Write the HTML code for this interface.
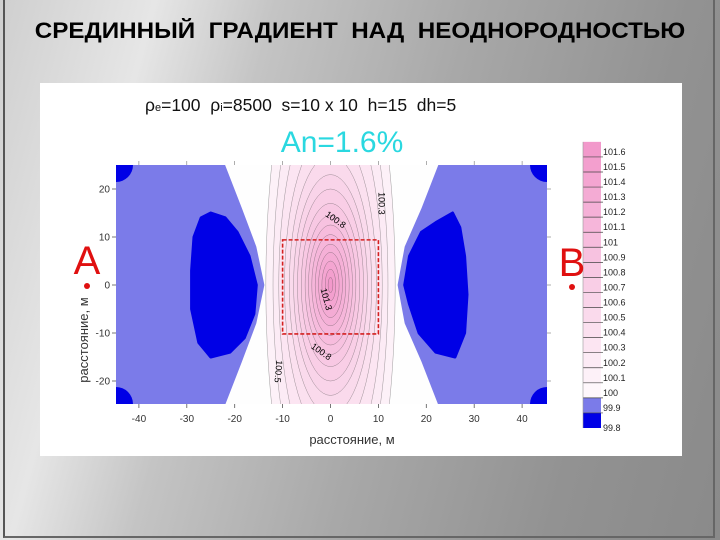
<!DOCTYPE html>
<html><head><meta charset="utf-8">
<style>
html,body{margin:0;padding:0;width:720px;height:540px;overflow:hidden;}
body{position:relative;font-family:"Liberation Sans","Noto Sans CJK SC",sans-serif;
background:linear-gradient(105deg,#cfcfcf 0%,#e6e6e6 18%,#c4c4c4 32%,#a8a8a8 55%,#929292 80%,#8a8a8a 100%);}
#frame{position:absolute;left:3px;top:0;width:712px;height:538px;border-left:2px solid #555;border-right:2px solid #666;border-bottom:2px solid #666;box-sizing:border-box;}
#title{position:absolute;left:0;width:720px;top:18px;text-align:center;font-weight:bold;font-size:22px;color:#000;white-space:pre;transform:scaleX(1.1);transform-origin:center;}
#panel{position:absolute;left:40px;top:83px;width:642px;height:373px;background:#fff;}
svg{position:absolute;left:0;top:0;}
</style></head>
<body>
<div id="frame"></div>
<div id="title">СРЕДИННЫЙ  ГРАДИЕНТ  НАД  НЕОДНОРОДНОСТЬЮ</div>
<div id="panel"></div>
<svg id="chart" width="720" height="540"></svg>
<script>
// ---- data ----
const xTicks=[-40,-30,-20,-10,0,10,20,30,40];
const yTicks=[-20,-10,0,10,20];
const levels=[100.1,100.2,100.3,100.4,100.5,100.6,100.7,100.8,100.9,101.0,101.1,101.2,101.3,101.4,101.5,101.6];
const levelRx=[13.5,12,10.8,9.6,8.6,7.7,6.9,6.1,5.3,4.6,3.9,3.2,2.5,1.8,1.1,0.5];
const levelRy=[60,50,40,32,27,23,20,17,14.5,12.5,10.5,8.5,6.8,5,3.3,1.6];
const barLevels=[99.8,99.9,100.0,100.1,100.2,100.3,100.4,100.5,100.6,100.7,100.8,100.9,101.0,101.1,101.2,101.3,101.4,101.5,101.6];
const barLabels=["99.8","99.9","100","100.1","100.2","100.3","100.4","100.5","100.6","100.7","100.8","100.9","101","101.1","101.2","101.3","101.4","101.5","101.6"];
const hourglassLeft=[[-22,25],[-18.5,16],[-15.5,8],[-13.8,0],[-15.5,-8],[-18.5,-16],[-22,-25]];
const hourglassRight=[[22.5,25],[19,16],[15.5,8],[14,0],[15.5,-8],[19,-16],[22.5,-25]];
const blobLeft=[[-25,15],[-22,14],[-19.5,11],[-17,6],[-15.5,0],[-16,-6],[-18,-11],[-21,-14],[-25,-15],[-27.5,-12],[-29,-5],[-29,3],[-28.5,10],[-27,14]];
const blobRight=[[25.5,15],[27,12],[28,6],[28.5,-2],[28,-10],[26,-15],[22,-14],[18.5,-10],[16.5,-4],[15.5,0],[16.5,6],[19,11],[22,13]];
const labelsOnPlot=[["100.8",1,13.5,35],["100.3",10.5,17,90],["101.3",-1,-3,75],["100.8",-2,-14,35],["100.5",-11,-18,95]];
const rectA=[-10,9.4,10,-10.2];
// ---- axes ----
const X0=116,X1=547,Y0=165,Y1=404;
const xs=v=>330.5+v*4.79;
const ys=v=>285-v*4.8;
const bs=v=>428-(v-99.8)*150.6;
const NS="http://www.w3.org/2000/svg";
const svg=document.getElementById('chart');
function mk(tag,attrs,parent){const e=document.createElementNS(NS,tag);for(const k in attrs)e.setAttribute(k,attrs[k]);(parent||svg).appendChild(e);return e;}
function pinkColor(v){const t=Math.max(0,Math.min(1,(v-100)/1.7));
 const r=Math.round(254-t*12),g=Math.round(250-t*100),b=Math.round(252-t*50);return `rgb(${r},${g},${b})`;}
function poly(pts){return pts.map(p=>xs(p[0]).toFixed(1)+','+ys(p[1]).toFixed(1)).join(' ');}
const defs=mk('defs',{});
const cp=mk('clipPath',{id:'plotclip'},defs);
mk('rect',{x:X0,y:Y0,width:X1-X0,height:Y1-Y0},cp);
const g=mk('g',{'clip-path':'url(#plotclip)'});


let bg=mk('rect',{x:X0,y:Y0,width:X1-X0,height:Y1-Y0,fill:'#7b7be9'},g);


[[X0,Y0],[X1,Y0],[X0,Y1],[X1,Y1]].forEach(c=>{let e=mk('circle',{cx:c[0],cy:c[1],r:17,fill:'#0000e6'},g);
 
 });
let hg=mk('polygon',{points:poly(hourglassLeft.concat(hourglassRight.slice().reverse())),fill:'#fefefe'},g);


[blobLeft,blobRight].forEach((b,i)=>{let e=mk('polygon',{points:poly(b),fill:'#0000e6','stroke':'#0000e6','stroke-width':3,'stroke-linejoin':'round'},g);
 
 });
const hcp=mk('clipPath',{id:'hgclip'},defs);
mk('polygon',{points:poly(hourglassLeft.concat(hourglassRight.slice().reverse()))},hcp);
const g2=mk('g',{'clip-path':'url(#hgclip)'},g);
levels.forEach((lv,i)=>{let e=mk('ellipse',{cx:xs(0),cy:ys(0),rx:levelRx[i]*4.79,ry:levelRy[i]*4.8,fill:pinkColor(lv+0.05),stroke:'#444',
 'stroke-width':0.5,'stroke-opacity':0.5},g2);
 
 });
labelsOnPlot.forEach(l=>{let t=mk('text',{x:xs(l[1]),y:ys(l[2]),'font-size':9,fill:'#000','text-anchor':'middle','dominant-baseline':'middle',
 transform:`rotate(${l[3]} ${xs(l[1])} ${ys(l[2])})`},g);t.textContent=l[0];
 
 });
let rr=mk('rect',{x:xs(rectA[0]),y:ys(rectA[1]),width:xs(rectA[2])-xs(rectA[0]),height:ys(rectA[3])-ys(rectA[1]),fill:'none',stroke:'#d42020','stroke-width':1.6,'stroke-dasharray':'4 2'});


xTicks.forEach(v=>{mk('line',{x1:xs(v),x2:xs(v),y1:Y1,y2:Y1+4,stroke:'#555','stroke-width':0.8});
 mk('line',{x1:xs(v),x2:xs(v),y1:Y0,y2:Y0-4,stroke:'#777','stroke-width':0.6});
 let t=mk('text',{x:xs(v),y:Y1+18,'font-size':10,fill:'#333','text-anchor':'middle'});t.textContent=v;
 
 });
yTicks.forEach(v=>{mk('line',{x1:X0-4,x2:X0,y1:ys(v),y2:ys(v),stroke:'#555','stroke-width':0.8});
 mk('line',{x1:X1,x2:X1+4,y1:ys(v),y2:ys(v),stroke:'#777','stroke-width':0.6});
 let t=mk('text',{x:X0-6,y:ys(v)+3.5,'font-size':10,fill:'#333','text-anchor':'end'});t.textContent=v;
 
 });
let xt=mk('text',{x:352,y:444,'font-size':13,fill:'#333','text-anchor':'middle'});xt.textContent='расстояние, м';


let yt=mk('text',{x:88,y:340,'font-size':13,fill:'#333','text-anchor':'middle',transform:'rotate(-90 88 340)'});yt.textContent='расстояние, м';


barLevels.forEach((lv,i)=>{
 let fill=lv<99.85?'#0000e6':lv<99.95?'#7b7be9':pinkColor(lv+0.05);
 let c=mk('rect',{x:583,y:bs(lv+0.1),width:18,height:bs(lv)-bs(lv+0.1),fill:fill});
 
 
 if(i>0){mk('line',{x1:583,x2:603,y1:bs(lv),y2:bs(lv),stroke:'#444','stroke-width':0.7});}
 let t=mk('text',{x:603,y:bs(lv)+(i===0?3:-2),'font-size':9,fill:'#222'});t.textContent=barLabels[i];
 
 });
mk('line',{x1:583,x2:583,y1:bs(101.7),y2:bs(99.8),stroke:'#999','stroke-width':0.6});
let st=mk('text',{x:145,y:111,'font-size':17.5,fill:'#111'});
st.innerHTML='ρ<tspan font-size="11">e</tspan>=100  ρ<tspan font-size="11">i</tspan>=8500  s=10 x 10  h=15  dh=5';
st.style.whiteSpace='pre';


let an=mk('text',{x:342,y:152,'font-size':30,fill:'#2ad8e0','text-anchor':'middle'});an.textContent='An=1.6%';


let A=mk('text',{x:87,y:274,'font-size':40,fill:'#e01010','text-anchor':'middle'});A.textContent='A';


let ad=mk('circle',{cx:87,cy:286,r:3,fill:'#e01010'});


let B=mk('text',{x:572,y:276,'font-size':40,fill:'#e01010','text-anchor':'middle'});B.textContent='B';


let bd=mk('circle',{cx:572,cy:287,r:3,fill:'#e01010'});


</script>
</body></html>
